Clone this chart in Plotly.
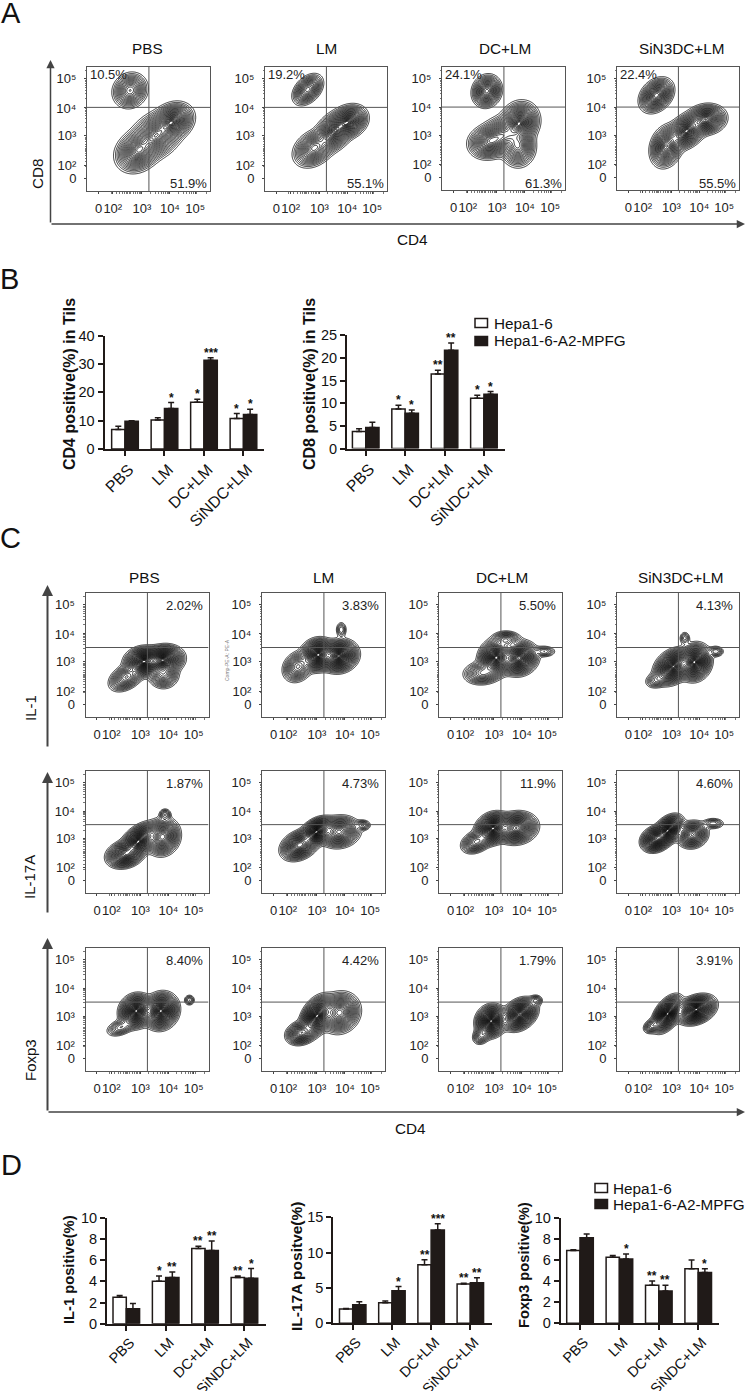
"""Flow plots and bar charts of tumour infiltrating cells (panels A-D)."""
from __future__ import annotations
import numpy as np
import plotly.graph_objects as go

W, H = 747, 1391
FONT = "Liberation Sans, Arial, sans-serif"
C_BAR = "#201A18"
C_GATE = "#555555"
C_AXIS = "#444444"

# ── flow panels: blobs are (x, y, sx, sy, rho, amp) in decades ──
GROUPS = ["PBS", "LM", "DC+LM", "SiN3DC+LM"]

BLOBS_A = [
    [(2.58, 4.6, .24, .24, .1, .5), (2.85, 2.45, .3, .28, .2, .75), (3.5, 3.0, .35, .32, .3, .85), (4.1, 3.5, .28, .25, .2, .85)],
    [(2.58, 4.63, .21, .21, .4, .55), (2.8, 2.55, .28, .25, .3, .65), (3.53, 3.14, .28, .28, .4, .95), (4.07, 3.5, .25, .22, .2, .85)],
    [(2.64, 4.57, .2, .22, .1, .75), (3.81, 3.44, .26, .28, .1, 1), (2.7, 2.75, .28, .23, .1, .65), (3.75, 2.6, .24, .28, 0, .65), (3.2, 3.0, .32, .27, .2, .65)],
    [(2.46, 4.42, .23, .23, .3, .7), (2.82, 2.6, .22, .28, .2, .7), (3.54, 3.14, .28, .25, .4, .85), (4.25, 3.56, .27, .2, .1, .75)],
]
BLOBS_C = [
    [(2.5, 2.45, .25, .2, .4, .4), (3.82, 3.06, .28, .2, .1, 1), (3.1, 3.0, .26, .2, .1, 1), (3.82, 2.55, .22, .2, 0, .35)],
    [(3.04, 3.24, .24, .22, .1, 1), (3.79, 3.2, .26, .22, .1, 1), (2.32, 2.82, .22, .22, .2, .35), (3.87, 4.13, .09, .13, 0, .08)],
    [(3.08, 3.14, .24, .25, .1, 1), (3.89, 3.12, .26, .23, .1, .95), (2.6, 2.6, .28, .17, .1, .3), (3.44, 3.77, .22, .13, 0, .25), (4.8, 3.36, .18, .09, 0, .1)],
    [(3.06, 2.82, .26, .24, .3, 1), (3.83, 2.98, .23, .25, .1, 1), (3.48, 3.83, .09, .11, 0, .07), (4.6, 3.36, .13, .09, 0, .1), (2.46, 2.35, .18, .13, .2, .12)],
    [(2.93, 2.9, .26, .25, .5, 1), (2.45, 2.43, .26, .19, .2, .7), (3.79, 3.06, .24, .26, .1, .7), (3.88, 3.86, .1, .1, 0, .1)],
    [(2.98, 3.24, .23, .2, .4, 1), (2.38, 2.76, .26, .21, .3, .75), (3.79, 3.24, .29, .22, .1, .65), (4.64, 3.48, .13, .09, 0, .1)],
    [(2.96, 3.36, .24, .22, .2, 1), (3.8, 3.38, .29, .22, .1, .8), (2.37, 2.88, .22, .17, .3, .35)],
    [(2.88, 3.3, .21, .21, .4, 1), (2.44, 2.98, .21, .18, .2, .8), (3.75, 3.14, .22, .19, .1, .6), (4.5, 3.54, .18, .09, 0, .1)],
    [(2.85, 3.18, .23, .23, .1, 1), (3.73, 3.18, .24, .25, .1, 1), (2.3, 2.6, .22, .14, .4, .15), (4.75, 3.57, .09, .09, 0, .08)],
    [(3.0, 3.0, .23, .28, .4, 1), (2.44, 2.4, .22, .17, .2, .5), (3.81, 3.12, .28, .28, .1, .65)],
    [(2.9, 2.82, .21, .22, .1, 1), (3.92, 3.06, .24, .22, .3, .95), (2.55, 2.3, .14, .14, .2, .15), (4.5, 3.56, .11, .09, 0, .1)],
    [(2.86, 3.08, .21, .25, .5, 1), (3.89, 3.23, .27, .2, .3, 1), (2.3, 2.65, .14, .12, .3, .15)],
]
PCT_A_UPPER = ["10.5%", "19.2%", "24.1%", "22.4%"]
PCT_A_LOWER = ["51.9%", "55.1%", "61.3%", "55.5%"]
PCT_C = ["2.02%", "3.83%", "5.50%", "4.13%",
         "1.87%", "4.73%", "11.9%", "4.60%",
         "8.40%", "4.42%", "1.79%", "3.91%"]
X_TICK_VALS = [1.45, 1.96, 3, 4, 4.9]
Y_TICK_VALS = [1.48, 1.95, 3, 3.98, 5.02]
TICK_TEXT = ["0", "10²", "10³", "10⁴", "10⁵"]
MINOR_VALS = [d + m for d in (1.6, 2, 3, 4, 5) for m in (.3, .48, .6, .7, .78, .85, .9, .95) if d + m < 5.43]
FLOW_RANGE = [1.04, 5.43]

# ── bar charts ────────────────────────────────────────────
BAR_LABELS = ["PBS", "LM", "DC+LM", "SiNDC+LM"]
SERIES = ["Hepa1-6", "Hepa1-6-A2-MPFG"]

CD4_WHITE = [6.9, 10.2, 16.5, 10.8]
CD4_WHITE_ERR = [1.1, 0.8, 1.1, 1.7]
CD4_BLACK = [9.8, 14.3, 31.3, 12.2]
CD4_BLACK_ERR = [0.2, 2.1, 0.9, 1.8]
CD4_STARS = [["", "", "*", "*"], ["", "*", "***", "*"]]

CD8_WHITE = [3.8, 8.75, 16.5, 11.1]
CD8_WHITE_ERR = [0.6, 0.85, 0.8, 0.7]
CD8_BLACK = [4.65, 7.8, 21.7, 12.0]
CD8_BLACK_ERR = [1.15, 0.7, 1.6, 0.6]
CD8_STARS = [["", "*", "**", "*"], ["", "*", "**", "*"]]

IL1_WHITE = [2.5, 4.0, 7.1, 4.35]
IL1_WHITE_ERR = [0.17, 0.5, 0.2, 0.15]
IL1_BLACK = [1.4, 4.35, 6.9, 4.28]
IL1_BLACK_ERR = [0.5, 0.52, 0.9, 0.92]
IL1_STARS = [["", "*", "**", "**"], ["", "**", "**", "*"]]

IL17_WHITE = [2.03, 2.92, 8.3, 5.57]
IL17_WHITE_ERR = [0.07, 0.23, 0.7, 0.1]
IL17_BLACK = [2.64, 4.6, 13.2, 5.75]
IL17_BLACK_ERR = [0.41, 0.6, 0.9, 0.7]
IL17_STARS = [["", "", "**", "**"], ["", "*", "***", "**"]]

FOXP3_WHITE = [6.9, 6.25, 3.6, 5.17]
FOXP3_WHITE_ERR = [0.07, 0.18, 0.4, 0.83]
FOXP3_BLACK = [8.1, 6.1, 3.06, 4.8]
FOXP3_BLACK_ERR = [0.35, 0.46, 0.54, 0.37]
FOXP3_STARS = [["", "", "**", ""], ["", "*", "**", "*"]]

fig = go.Figure()
layout = {}
annotations = []
shapes = []
n_axes = 0


def paper_text(text, x, y, size=15, angle=0, bold=False, color="#111111", anchor="center"):
    if bold:
        text = f"<b>{text}</b>"
    annotations.append(dict(
        text=text, x=x / W, y=1 - y / H, xref="paper", yref="paper",
        xanchor=anchor, yanchor="middle", showarrow=False, textangle=angle,
        font=dict(family=FONT, size=size, color=color),
    ))


def arrow(x0, y0, x1, y1, width=1.5):
    annotations.append(dict(
        text="", x=x1 / W, y=1 - y1 / H, xref="paper", yref="paper",
        ax=x0 - x1, ay=y0 - y1, axref="pixel", ayref="pixel",
        showarrow=True, arrowhead=2, arrowsize=1.1, arrowwidth=width, arrowcolor=C_AXIS,
    ))


def new_axes(left, right, top, bottom):
    global n_axes
    n_axes += 1
    dom_x = [left / W, right / W]
    dom_y = [1 - bottom / H, 1 - top / H]
    return n_axes, dom_x, dom_y


def flow_panel(blobs, box, gate_y, labels, step=0.036):
    left, right, top, bottom = box
    n, dom_x, dom_y = new_axes(left, right, top, bottom)
    grid = np.linspace(FLOW_RANGE[0], FLOW_RANGE[1], 180)
    gx, gy = np.meshgrid(grid, grid)
    d = np.zeros_like(gx)
    for cx, cy, sx, sy, rho, amp in blobs:
        u, v = (gx - cx) / sx, (gy - cy) / sy
        d += amp * np.exp(-(u * u - 2 * rho * u * v + v * v) / (2 * (1 - rho * rho)))
    d = d / d.max()
    # rings evenly spaced outside, tightening towards the core like FlowJo contours
    t = np.clip(1 - np.sqrt(-2 * np.log(np.maximum(d, 1e-9))) / 3.1, 0, 1)
    z = t ** 1.4
    fig.add_trace(go.Contour(
        x=grid, y=grid, z=z, xaxis=f"x{n}", yaxis=f"y{n}", showscale=False,
        contours=dict(coloring="none", start=0.012, end=0.935, size=step),
        line=dict(color="#000000", width=0.8, smoothing=1),
        hoverinfo="skip", showlegend=False,
    ))
    axis = dict(
        range=FLOW_RANGE, ticktext=TICK_TEXT, ticks="outside", ticklen=2,
        tickangle=0, tickcolor=C_AXIS, tickfont=dict(family=FONT, size=13, color="#222222"),
        showline=True, mirror=True, linecolor=C_GATE, linewidth=1, showgrid=False, zeroline=False,
        minor=dict(tickvals=MINOR_VALS, ticks="outside", ticklen=1.5, tickcolor="#777777"),
    )
    layout[f"xaxis{n}"] = dict(axis, domain=dom_x, anchor=f"y{n}", tickvals=X_TICK_VALS, ticklabelstandoff=3)
    layout[f"yaxis{n}"] = dict(axis, domain=dom_y, anchor=f"x{n}", tickvals=Y_TICK_VALS, ticklabelstandoff=5)
    gate_x = 3.25
    shapes.append(dict(type="line", xref=f"x{n}", yref=f"y{n}", x0=gate_x, x1=gate_x,
                       y0=FLOW_RANGE[0], y1=FLOW_RANGE[1], line=dict(color=C_GATE, width=1)))
    shapes.append(dict(type="line", xref=f"x{n}", yref=f"y{n}", x0=FLOW_RANGE[0], x1=FLOW_RANGE[1],
                       y0=gate_y, y1=gate_y, line=dict(color=C_GATE, width=1)))
    for text, x, y, anchor in labels:
        paper_text(text, x, y, size=13, color="#222222", anchor=anchor)


def bar_panel(box, xrange, ymax, ytick, white, white_err, black, black_err, stars, title, title_x, title_y, title_size,
              label_size=15.3):
    left, right, top, bottom = box
    n, dom_x, dom_y = new_axes(left, right, top, bottom)
    for name, vals, errs, fill in ((SERIES[0], white, white_err, "white"), (SERIES[1], black, black_err, C_BAR)):
        fig.add_trace(go.Bar(
            x=BAR_LABELS, y=vals, name=name, xaxis=f"x{n}", yaxis=f"y{n}", showlegend=False,
            marker=dict(color=fill, line=dict(color=C_BAR, width=1.5)),
            error_y=dict(type="data", symmetric=False, array=errs, arrayminus=[0] * len(errs),
                         color=C_BAR, thickness=1.5, width=3),
        ))
    layout[f"xaxis{n}"] = dict(
        domain=dom_x, anchor=f"y{n}", type="category", categoryorder="array", categoryarray=BAR_LABELS,
        range=xrange, tickangle=-45, ticks="outside", ticklen=5, tickwidth=1.5, tickcolor=C_BAR,
        showline=True, linecolor=C_BAR, linewidth=2, showgrid=False, zeroline=False,
        tickfont=dict(family=FONT, size=label_size, color="#111111"), ticklabelstandoff=-2, ticklabelshift=4,
    )
    layout[f"yaxis{n}"] = dict(
        domain=dom_y, anchor=f"x{n}", range=[0, ymax], dtick=ytick, ticks="outside", ticklen=5,
        tickwidth=1.5, tickcolor=C_BAR, showline=True, linecolor=C_BAR, linewidth=2,
        showgrid=False, zeroline=False, tickfont=dict(family=FONT, size=14.5, color="#111111"),
    )
    for k, (vals, errs, marks) in enumerate(((white, white_err, stars[0]), (black, black_err, stars[1]))):
        for i, mark in enumerate(marks):
            if mark:
                annotations.append(dict(
                    text=f"<b>{mark}</b>", x=i + (k - 0.5) * 0.3375, y=vals[i] + errs[i],
                    xref=f"x{n}", yref=f"y{n}", xanchor="center", yanchor="middle", yshift=5,
                    showarrow=False, font=dict(family=FONT, size=12, color="#111111"),
                ))
    paper_text(title, title_x, title_y, size=title_size, angle=-90, bold=True)


def bar_legend(x, y_top, y_bottom, text_x):
    for y, fill, name in ((y_top, "white", SERIES[0]), (y_bottom, C_BAR, SERIES[1])):
        shapes.append(dict(type="rect", xref="paper", yref="paper",
                           x0=x / W, x1=(x + 12.5) / W, y0=1 - (y + 4.5) / H, y1=1 - (y - 4.5) / H,
                           fillcolor=fill, line=dict(color=C_BAR, width=1.5)))
        paper_text(name, text_x, y, size=15.3, anchor="left")


# ── panel A ───────────────────────────────────────────────
A_BOXES = [(87, 210, 67, 191), (265, 387, 67, 191), (442, 565, 67, 190), (617, 739, 67, 190)]
A_TITLE_X = [147, 326, 505, 681]
for i, box in enumerate(A_BOXES):
    flow_panel(BLOBS_A[i], box, 4.0, [
        (PCT_A_UPPER[i], box[0] + 1, 75, "left"),
        (PCT_A_LOWER[i], box[1] - 1, 183, "right"),
    ])
    paper_text(GROUPS[i], A_TITLE_X[i], 48.5, size=15.3)
arrow(50.5, 224, 50.5, 60)
arrow(50, 224, 745, 224)
paper_text("CD8", 38, 174, size=15.3, angle=-90)
paper_text("CD4", 412, 239, size=15.3)

# ── panel B ───────────────────────────────────────────────
bar_panel((104.6, 263.6, 335.7, 449), [-0.516, 3.51], 40, 10, CD4_WHITE, CD4_WHITE_ERR, CD4_BLACK, CD4_BLACK_ERR,
          CD4_STARS, "CD4 positive(%) in Tils", 70, 384, 16, 16)
bar_panel((347, 505, 335.4, 448.6), [-0.475, 3.535], 25, 5, CD8_WHITE, CD8_WHITE_ERR, CD8_BLACK, CD8_BLACK_ERR,
          CD8_STARS, "CD8 positive(%) in Tils", 310, 384, 16, 16)
bar_legend(475, 323, 341, 492)

# ── panel C ───────────────────────────────────────────────
C_COLS = [(85.5, 208.5), (262, 385), (439, 562), (617, 739)]
C_ROWS = [(593, 717), (771, 893), (948, 1071)]
C_TITLE_X = [144, 323, 502, 680]
for r, (top, bottom) in enumerate(C_ROWS):
    for c, (left, right) in enumerate(C_COLS):
        k = r * 4 + c
        flow_panel(BLOBS_C[k], (left, right, top, bottom), 3.5,
                   [(PCT_C[k], right - 4, top + 12, "right")], step=0.03)
for c in range(4):
    paper_text(GROUPS[c], C_TITLE_X[c], 577, size=15.3)
arrow(47.5, 748, 47.5, 585, 2)
arrow(47.5, 914, 47.5, 772, 2)
arrow(47.5, 1112, 47.5, 938, 2)
arrow(47, 1112, 745, 1112)
paper_text("IL-1", 30, 708, size=15, angle=-90)
paper_text("IL-17A", 30, 877, size=15, angle=-90)
paper_text("Foxp3", 30, 1060, size=15, angle=-90)
paper_text("CD4", 410, 1128, size=15.3)
paper_text("Comp-PE-A: PE-A", 227, 660, size=5, angle=-90, color="#777777")

# ── panel D ───────────────────────────────────────────────
bar_panel((107, 265.7, 1217.7, 1323.7), [-0.49, 3.54], 10, 2, IL1_WHITE, IL1_WHITE_ERR, IL1_BLACK, IL1_BLACK_ERR,
          IL1_STARS, "IL-1 positive(%)", 69, 1270, 14.7, 14.4)
bar_panel((333.3, 491.7, 1217.3, 1323.3), [-0.495, 3.545], 15, 5, IL17_WHITE, IL17_WHITE_ERR, IL17_BLACK, IL17_BLACK_ERR,
          IL17_STARS, "IL-17A positve(%)", 296, 1267, 15.5, 14.4)
bar_panel((560.7, 719.3, 1217.7, 1323.3), [-0.49, 3.535], 10, 2, FOXP3_WHITE, FOXP3_WHITE_ERR, FOXP3_BLACK, FOXP3_BLACK_ERR,
          FOXP3_STARS, "Foxp3 positive(%)", 524, 1265, 14.7, 14.4)
bar_legend(595, 1188, 1204, 611)

# ── panel letters ─────────────────────────────────────────
paper_text("A", 11, 13, size=29)
paper_text("B", 9, 279, size=29)
paper_text("C", 10, 538, size=29)
paper_text("D", 11, 1165, size=29)

fig.update_layout(
    **layout,
    width=W, height=H, margin=dict(l=0, r=0, t=0, b=0, autoexpand=False), autosize=False,
    paper_bgcolor="white", plot_bgcolor="rgba(0,0,0,0)",
    barmode="group", bargap=0.325, bargroupgap=0,
    annotations=annotations, shapes=shapes,
    font=dict(family=FONT), showlegend=False,
)
fig.write_html("out.html", config=dict(displayModeBar=False), post_script="document.body.style.margin='0';")
